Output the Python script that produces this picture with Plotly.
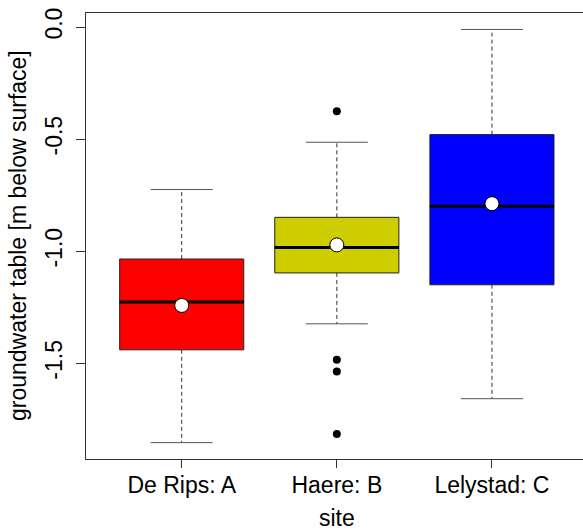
import plotly.graph_objects as go

# ---- data ----
sites = ["De Rips: A", "Haere: B", "Lelystad: C"]
positions = [1, 2, 3]
colors = ["#FF0000", "#CDCD00", "#0000FF"]
lower_whisker = [-1.854, -1.324, -1.658]
q1 = [-1.440, -1.097, -1.150]
median = [-1.227, -0.983, -0.800]
q3 = [-1.035, -0.849, -0.480]
upper_whisker = [-0.725, -0.514, -0.011]
means = [-1.242, -0.972, -0.788]
outlier_site = [2, 2, 2, 2]
outlier_value = [-0.376, -1.484, -1.537, -1.816]
y_tickvals = [0.0, -0.5, -1.0, -1.5]
y_ticktext = ["0.0", "-0.5", "-1.0", "-1.5"]

BOXW = 0.4   # half box width
CAPW = 0.2   # half staple width
FONT = "Liberation Sans, Arial, sans-serif"

fig = go.Figure()

for i, p in enumerate(positions):
    # whiskers (dashed)
    fig.add_trace(go.Scatter(x=[p, p, None, p, p],
                             y=[q3[i], upper_whisker[i], None, q1[i], lower_whisker[i]],
                             mode="lines", line=dict(color="#333333", width=1, dash="4px,3px"),
                             hoverinfo="skip", showlegend=False))
    # staples
    fig.add_trace(go.Scatter(x=[p - CAPW, p + CAPW, None, p - CAPW, p + CAPW],
                             y=[upper_whisker[i], upper_whisker[i], None, lower_whisker[i], lower_whisker[i]],
                             mode="lines", line=dict(color="#555555", width=1),
                             hoverinfo="skip", showlegend=False))
    # box
    fig.add_trace(go.Scatter(x=[p - BOXW, p + BOXW, p + BOXW, p - BOXW, p - BOXW],
                             y=[q1[i], q1[i], q3[i], q3[i], q1[i]],
                             mode="lines", fill="toself", fillcolor=colors[i],
                             line=dict(color="#222222", width=1),
                             hoverinfo="skip", showlegend=False))
    # median
    fig.add_trace(go.Scatter(x=[p - BOXW, p + BOXW], y=[median[i], median[i]],
                             mode="lines", line=dict(color="black", width=3),
                             hoverinfo="skip", showlegend=False))

# outliers
fig.add_trace(go.Scatter(x=outlier_site, y=outlier_value, mode="markers",
                         marker=dict(color="black", size=8),
                         hoverinfo="skip", showlegend=False))
# means
fig.add_trace(go.Scatter(x=positions, y=means, mode="markers",
                         marker=dict(color="white", size=14, line=dict(color="black", width=1)),
                         hoverinfo="skip", showlegend=False))

fig.update_layout(
    width=583, height=531,
    margin=dict(l=86, r=0, t=13, b=72),
    paper_bgcolor="white", plot_bgcolor="white",
    font=dict(family=FONT, size=23, color="black"),
    showlegend=False,
    xaxis=dict(range=[0.383, 3.587], tickvals=positions, ticktext=sites,
               ticks="outside", ticklen=8, tickcolor="#333333", tickwidth=1,
               ticklabelstandoff=-3,
               showline=True, linecolor="#333333", linewidth=1, mirror=True,
               showgrid=False, zeroline=False, fixedrange=True),
    yaxis=dict(range=[-1.927, 0.0625], tickvals=y_tickvals, ticktext=y_ticktext,
               tickangle=-90, ticklabelstandoff=5,
               ticks="outside", ticklen=9, tickcolor="#333333", tickwidth=1,
               showline=True, linecolor="#333333", linewidth=1, mirror=True,
               showgrid=False, zeroline=False, fixedrange=True),
    annotations=[
        dict(text="site", xref="x", yref="paper", x=2, y=0, yshift=-44,
             xanchor="center", yanchor="top", showarrow=False,
             font=dict(family=FONT, size=23)),
        dict(text="groundwater table [m below surface]", xref="paper", yref="paper",
             x=0, xshift=-68, y=0.5, textangle=-90,
             xanchor="center", yanchor="middle", showarrow=False,
             font=dict(family=FONT, size=23)),
    ],
)

fig.write_html("out.html")
